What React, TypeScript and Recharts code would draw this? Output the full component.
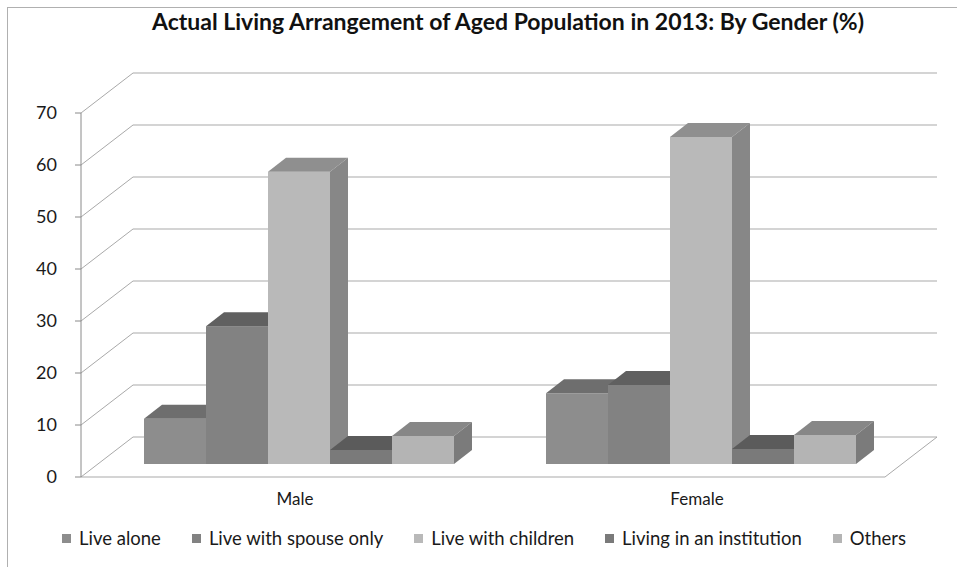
import React from "react";
import { Bar, BarChart, CartesianGrid, Legend, XAxis, YAxis } from "recharts";

const CATEGORIES = ["Male", "Female"];
const LIVE_ALONE = [8.7, 13.6];
const LIVE_WITH_SPOUSE = [26.5, 15.2];
const LIVE_WITH_CHILDREN = [56.2, 62.9];
const IN_INSTITUTION = [2.7, 2.9];
const OTHERS = [5.4, 5.6];
const Y_TICKS = [0, 10, 20, 30, 40, 50, 60, 70];

const SERIES = [
  { key: "alone", name: "Live alone", values: LIVE_ALONE, front: "#8d8d8d", top: "#6e6e6e", side: "#676767" },
  { key: "spouse", name: "Live with spouse only", values: LIVE_WITH_SPOUSE, front: "#828282", top: "#606060", side: "#5a5a5a" },
  { key: "children", name: "Live with children", values: LIVE_WITH_CHILDREN, front: "#b9b9b9", top: "#8f8f8f", side: "#878787" },
  { key: "institution", name: "Living in an institution", values: IN_INSTITUTION, front: "#7a7a7a", top: "#5b5b5b", side: "#555555" },
  { key: "others", name: "Others", values: OTHERS, front: "#b4b4b4", top: "#878787", side: "#7b7b7b" },
];

const data = CATEGORIES.map((name, i) => {
  const row: Record<string, string | number> = { name };
  SERIES.forEach((s) => (row[s.key] = s.values[i]));
  return row;
});

const FONT = "Lato, 'Open Sans', sans-serif";
const GRID = "#a9a9a9";
const TEXT = "#1a1a1a";

// oblique 3d: back wall offset, bar front-face offset, bar depth
const WALL_DX = 52;
const WALL_DY = -40;
const BAR_DX = 17;
const BAR_DY = -13;
const DEPTH_DX = 18;
const DEPTH_DY = -14;

function WallLine(props: any) {
  const { x1, y1, x2, y, height } = props;
  const floor = Math.abs(y1 - (y + height)) < 1;
  return (
    <g>
      <line x1={x1} y1={y1} x2={x1 + WALL_DX} y2={y1 + WALL_DY} stroke={GRID} />
      <line x1={x1 + WALL_DX} y1={y1 + WALL_DY} x2={x2 + WALL_DX} y2={y1 + WALL_DY} stroke={GRID} />
      {floor && <line x1={x2} y1={y1} x2={x2 + WALL_DX} y2={y1 + WALL_DY} stroke={GRID} />}
    </g>
  );
}

function Box(props: any) {
  const { x, y, width, height, dataKey } = props;
  const s = SERIES.find((d) => d.key === dataKey)!;
  const fx = x + BAR_DX;
  const fy = y + BAR_DY;
  const by = fy + height;
  const r = fx + width;
  return (
    <g>
      <rect x={fx} y={fy} width={width} height={height} fill={s.front} />
      <polygon
        points={`${fx},${fy} ${fx + DEPTH_DX},${fy + DEPTH_DY} ${r + DEPTH_DX},${fy + DEPTH_DY} ${r},${fy}`}
        fill={s.top}
      />
      <polygon
        points={`${r},${fy} ${r + DEPTH_DX},${fy + DEPTH_DY} ${r + DEPTH_DX},${by + DEPTH_DY} ${r},${by}`}
        fill={s.side}
      />
    </g>
  );
}

function CategoryTick({ x, y, payload }: any) {
  return (
    <text x={x + 13} y={y + 20} textAnchor="middle" fill={TEXT} fontSize={17} fontFamily={FONT}>
      {payload.value}
    </text>
  );
}

function LegendRow({ payload }: any) {
  const items = SERIES.map((s) => (payload || []).find((p: any) => p.value === s.name)).filter(Boolean);
  return (
    <div style={{ display: "flex", gap: 31, fontFamily: FONT, fontSize: 18.5, color: TEXT }}>
      {items.map((p: any) => (
        <span key={p.value} style={{ display: "flex", alignItems: "center" }}>
          <span style={{ width: 9, height: 9, background: p.color, marginRight: 8 }} />
          {p.value}
        </span>
      ))}
    </div>
  );
}

export default function App() {
  return (
    <div
      style={{
        position: "absolute",
        left: 0,
        top: 0,
        width: 957,
        height: 567,
        overflow: "hidden",
        background: "#fff",
      }}
    >
      <div
        style={{
          position: "absolute",
          left: 7,
          top: 7,
          width: 1000,
          height: 600,
          border: "1px solid #b0b0b0",
        }}
      />
      <div
        style={{
          position: "absolute",
          top: 7,
          left: 0,
          width: 1016,
          textAlign: "center",
          fontFamily: FONT,
          fontWeight: 700,
          fontSize: 23,
          color: "#111",
        }}
      >
        Actual Living Arrangement of Aged Population in 2013: By Gender (%)
      </div>
      <div style={{ position: "absolute", left: 0, top: 0 }}>
        <BarChart
          width={957}
          height={567}
          data={data}
          margin={{ top: 113, right: 72, bottom: 60, left: 21 }}
          barCategoryGap={46}
          barGap={0}
        >
          <CartesianGrid vertical={false} horizontal={(p: any) => <WallLine {...p} />} />
          <XAxis
            dataKey="name"
            height={30}
            tickLine={false}
            axisLine={{ stroke: GRID }}
            tick={<CategoryTick />}
          />
          <YAxis
            width={60}
            domain={[0, 70]}
            ticks={Y_TICKS}
            interval={0}
            axisLine={{ stroke: "#8a8a8a" }}
            tickLine={{ stroke: "#8a8a8a" }}
            tickMargin={18}
            tick={{ fill: TEXT, fontSize: 18, fontFamily: FONT }}
          />
          <Legend
            layout="horizontal"
            align="center"
            verticalAlign="middle"
            wrapperStyle={{ top: 527, left: 62, width: 890 }}
            content={<LegendRow />}
          />
          {SERIES.map((s) => (
            <Bar
              key={s.key}
              dataKey={s.key}
              name={s.name}
              fill={s.front}
              shape={<Box />}
              isAnimationActive={false}
            />
          ))}
        </BarChart>
      </div>
    </div>
  );
}
